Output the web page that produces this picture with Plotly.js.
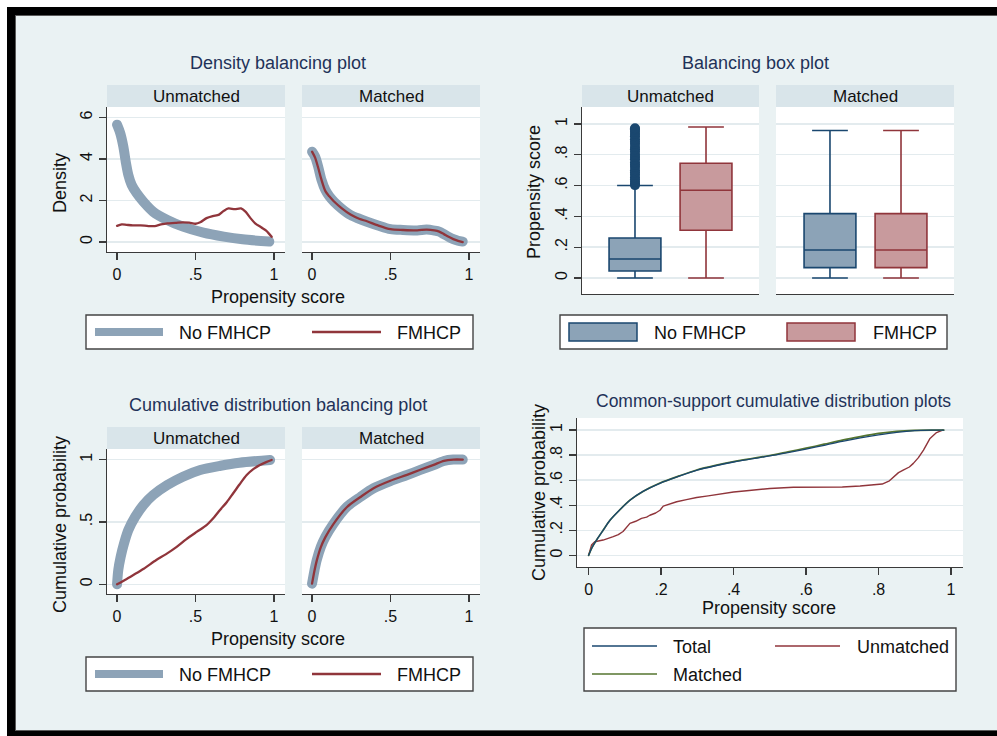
<!DOCTYPE html>
<html><head><meta charset="utf-8">
<script src="https://cdn.plot.ly/plotly-3.0.1.min.js"></script>
<style>
html,body{margin:0;padding:0;background:#fff;}
#chart{width:997px;height:736px;}
.js-line{stroke-linecap:round;stroke-linejoin:round;}
</style>
</head><body><div id="chart"></div>
<script>
// ---------------- DATA ----------------
const groupNames = ['No FMHCP', 'FMHCP'];
const cdfNames = ['Total', 'Unmatched', 'Matched'];
const panelNames = ['Unmatched', 'Matched'];

// Density balancing plot – Unmatched
const densUnNoX = [0, 0.02, 0.04, 0.057, 0.072, 0.093, 0.125, 0.168, 0.23, 0.32, 0.42, 0.55, 0.68, 0.80, 0.97];
const densUnNoY = [5.65, 5.25, 4.6, 3.8, 3.23, 2.75, 2.35, 1.94, 1.46, 1.06, 0.74, 0.45, 0.26, 0.13, 0.02];
const densUnFmX = [0, 0.03, 0.06, 0.10, 0.15, 0.20, 0.24, 0.28, 0.32, 0.37, 0.42, 0.46, 0.50, 0.53, 0.57, 0.61, 0.65, 0.68, 0.71, 0.75, 0.79, 0.82, 0.85, 0.88, 0.92, 0.95, 0.985];
const densUnFmY = [0.78, 0.85, 0.83, 0.80, 0.80, 0.77, 0.77, 0.85, 0.90, 0.92, 0.95, 0.93, 0.88, 0.95, 1.15, 1.25, 1.32, 1.50, 1.62, 1.58, 1.62, 1.45, 1.15, 0.90, 0.70, 0.55, 0.25];
// Density balancing plot – Matched
const densMaX   = [0, 0.02, 0.04, 0.06, 0.085, 0.11, 0.14, 0.19, 0.245, 0.30, 0.35, 0.42, 0.50, 0.58, 0.67, 0.73, 0.78, 0.81, 0.84, 0.87, 0.90, 0.93, 0.96];
const densMaNoY = [4.35, 4.1, 3.6, 3.0, 2.5, 2.2, 1.94, 1.6, 1.3, 1.12, 0.98, 0.80, 0.62, 0.58, 0.56, 0.60, 0.55, 0.50, 0.38, 0.25, 0.14, 0.06, 0.02];
const densMaFmY = [4.35, 4.05, 3.55, 3.0, 2.45, 2.2, 1.95, 1.62, 1.32, 1.12, 1.0, 0.80, 0.62, 0.58, 0.56, 0.60, 0.56, 0.50, 0.38, 0.25, 0.14, 0.06, 0.0];

// Balancing box plot (q1, median, q3, lower, upper)
const boxUnNo = {q1: 0.045, med: 0.123, q3: 0.26, lo: 0, hi: 0.60};
const boxUnFm = {q1: 0.31, med: 0.57, q3: 0.745, lo: 0, hi: 0.98};
const boxMaNo = {q1: 0.067, med: 0.182, q3: 0.418, lo: 0, hi: 0.957};
const boxMaFm = {q1: 0.067, med: 0.182, q3: 0.418, lo: 0, hi: 0.957};
const outliersUnNo = [0.603, 0.61, 0.625, 0.64, 0.652, 0.67, 0.685, 0.70, 0.72, 0.735, 0.75, 0.77, 0.785, 0.80, 0.82, 0.835, 0.85, 0.87, 0.885, 0.90, 0.92, 0.935, 0.95, 0.965, 0.972];

// Cumulative distribution balancing plot
const cdfUnNoX = [0, 0.008, 0.023, 0.045, 0.072, 0.115, 0.168, 0.23, 0.32, 0.42, 0.53, 0.66, 0.78, 0.975];
const cdfUnNoY = [0.0, 0.115, 0.22, 0.33, 0.435, 0.54, 0.636, 0.716, 0.796, 0.863, 0.917, 0.951, 0.975, 0.997];
const cdfUnFmX = [0, 0.05, 0.104, 0.17, 0.25, 0.31, 0.38, 0.44, 0.507, 0.57, 0.62, 0.656, 0.70, 0.74, 0.78, 0.826, 0.87, 0.91, 0.95, 0.985];
const cdfUnFmY = [0, 0.035, 0.075, 0.125, 0.195, 0.24, 0.30, 0.36, 0.42, 0.475, 0.54, 0.596, 0.66, 0.73, 0.80, 0.876, 0.925, 0.957, 0.98, 0.997];
const cdfMaX   = [0, 0.016, 0.03, 0.056, 0.085, 0.136, 0.223, 0.308, 0.392, 0.499, 0.605, 0.69, 0.775, 0.84, 0.90, 0.96];
const cdfMaNoY = [0.005, 0.115, 0.195, 0.30, 0.38, 0.485, 0.622, 0.70, 0.77, 0.828, 0.876, 0.917, 0.957, 0.989, 1.0, 1.0];
const cdfMaFmY = [0.005, 0.112, 0.19, 0.298, 0.378, 0.483, 0.62, 0.70, 0.771, 0.83, 0.878, 0.919, 0.958, 0.99, 1.0, 1.0];

// Common-support cumulative distribution plots
const csX       = [0, 0.01, 0.022, 0.04, 0.059, 0.085, 0.114, 0.15, 0.197, 0.25, 0.30, 0.35, 0.40, 0.45, 0.50, 0.55, 0.60, 0.65, 0.70, 0.75, 0.80, 0.85, 0.90, 0.95, 0.98];
const csTotalY  = [0, 0.065, 0.122, 0.20, 0.28, 0.36, 0.44, 0.51, 0.575, 0.632, 0.68, 0.715, 0.745, 0.77, 0.793, 0.82, 0.848, 0.878, 0.91, 0.938, 0.962, 0.982, 0.995, 0.999, 1.0];
const csMatchY  = [0, 0.065, 0.122, 0.20, 0.28, 0.36, 0.44, 0.51, 0.577, 0.634, 0.683, 0.718, 0.748, 0.773, 0.797, 0.826, 0.855, 0.887, 0.92, 0.948, 0.973, 0.99, 0.998, 1.0, 1.0];
const csUnX = [0, 0.008, 0.017, 0.04, 0.068, 0.082, 0.095, 0.114, 0.13, 0.146, 0.16, 0.169, 0.185, 0.197, 0.206, 0.225, 0.243, 0.27, 0.298, 0.33, 0.362, 0.40, 0.436, 0.50, 0.565, 0.657, 0.70, 0.749, 0.81, 0.83, 0.84, 0.855, 0.868, 0.885, 0.896, 0.91, 0.924, 0.942, 0.96, 0.977];
const csUnY = [0, 0.082, 0.109, 0.122, 0.149, 0.165, 0.19, 0.255, 0.272, 0.295, 0.305, 0.32, 0.338, 0.36, 0.393, 0.41, 0.428, 0.445, 0.462, 0.475, 0.49, 0.505, 0.516, 0.534, 0.543, 0.543, 0.545, 0.553, 0.569, 0.595, 0.622, 0.66, 0.68, 0.705, 0.734, 0.78, 0.84, 0.933, 0.98, 1.0];

// Tick labels
const ticksHalf = [0, 0.5, 1], ticksHalfTxt = ['0', '.5', '1'];
const ticksDens = [0, 2, 4, 6], ticksDensTxt = ['0', '2', '4', '6'];
const ticksFifth = [0, 0.2, 0.4, 0.6, 0.8, 1], ticksFifthTxt = ['0', '.2', '.4', '.6', '.8', '1'];

// ---------------- STYLE / LAYOUT ----------------
const W = 997, H = 736;
const X = p => p / W, Y = p => 1 - p / H;
const FONT = 'Liberation Sans, Arial, Helvetica, sans-serif';
const NAVY = '#1a476f', MAROON = '#90353b', GREEN = '#55752f', THICK = '#8da3b7';
const NAVYFILL = '#8ca3b7', MAROONFILL = '#c89a9d';
const TITLE = '#1f3259', BG = '#eaf2f3', STRIP = '#d9e5ea', GRID = '#e3ebee', AX = '#3a3a3a';

const traces = [];
function line(x, y, xa, ya, color, width, name, smooth) {
  const ln = {color: color, width: width};
  if (smooth) { ln.shape = 'spline'; ln.smoothing = 0.8; }
  traces.push({type: 'scatter', mode: 'lines', x: x, y: y, xaxis: xa, yaxis: ya, name: name,
    line: ln, hoverinfo: 'skip', showlegend: false});
}
// Panel 1
line(densUnNoX, densUnNoY, 'x', 'y', THICK, 10, groupNames[0], true);
line(densUnFmX, densUnFmY, 'x', 'y', MAROON, 2.3, groupNames[1], true);
line(densMaX, densMaNoY, 'x2', 'y2', THICK, 10, groupNames[0], true);
line(densMaX, densMaFmY, 'x2', 'y2', MAROON, 2.3, groupNames[1], true);
// Panel 2
function box(cat, s, xa, ya, color, fill) {
  traces.push({type: 'box', x: [cat], q1: [s.q1], median: [s.med], q3: [s.q3], lowerfence: [s.lo], upperfence: [s.hi],
    xaxis: xa, yaxis: ya, fillcolor: fill, line: {color: color, width: 1.6}, width: 0.73, whiskerwidth: 0.69,
    boxpoints: false, hoverinfo: 'skip', showlegend: false, name: cat});
}
box(groupNames[0], boxUnNo, 'x3', 'y3', NAVY, NAVYFILL);
box(groupNames[1], boxUnFm, 'x3', 'y3', MAROON, MAROONFILL);
box(groupNames[0], boxMaNo, 'x4', 'y4', NAVY, NAVYFILL);
box(groupNames[1], boxMaFm, 'x4', 'y4', MAROON, MAROONFILL);
traces.push({type: 'scatter', mode: 'markers', x: outliersUnNo.map(() => groupNames[0]), y: outliersUnNo,
  xaxis: 'x3', yaxis: 'y3', marker: {color: NAVY, size: 10}, hoverinfo: 'skip', showlegend: false});
// Panel 3
line(cdfUnNoX, cdfUnNoY, 'x5', 'y5', THICK, 10, groupNames[0], true);
line(cdfUnFmX, cdfUnFmY, 'x5', 'y5', MAROON, 2.3, groupNames[1], true);
line(cdfMaX, cdfMaNoY, 'x6', 'y6', THICK, 10, groupNames[0], true);
line(cdfMaX, cdfMaFmY, 'x6', 'y6', MAROON, 2.3, groupNames[1], true);
// Panel 4
line(csUnX, csUnY, 'x7', 'y7', MAROON, 1.4, cdfNames[1], false);
line(csX, csMatchY, 'x7', 'y7', GREEN, 1.7, cdfNames[2], true);
line(csX, csTotalY, 'x7', 'y7', NAVY, 1.3, cdfNames[0], true);

const axBase = {showgrid: false, zeroline: false, showline: true, linecolor: AX, linewidth: 1.3,
  ticks: 'outside', ticklen: 7, tickcolor: AX, tickwidth: 1.3, tickfont: {family: FONT, size: 16, color: '#111'},
  fixedrange: true, tickmode: 'array'};
function xa(px0, px1, anchor, range, tv, tt, extra) {
  return Object.assign({}, axBase, {domain: [X(px0), X(px1)], anchor: anchor, range: range, tickvals: tv, ticktext: tt}, extra || {});
}
function ya(py0, py1, anchor, range, tv, tt, labels, extra) {
  const o = Object.assign({}, axBase, {domain: [Y(py1), Y(py0)], anchor: anchor, range: range, tickvals: tv, ticktext: tt,
    tickangle: -90, showgrid: true, gridcolor: GRID, gridwidth: 1.4});
  if (!labels) { o.showticklabels = false; o.ticks = ''; o.showline = false; }
  return Object.assign(o, extra || {});
}
const boxX = {type: 'category', categoryorder: 'array', categoryarray: groupNames, showticklabels: false, ticks: ''};

const layout = {
  width: W, height: H, margin: {l: 0, r: 0, t: 0, b: 0}, paper_bgcolor: BG, plot_bgcolor: '#ffffff',
  showlegend: false, font: {family: FONT, color: '#111'}, boxmode: 'overlay',
  xaxis:  xa(107, 285, 'y',  [-0.064, 1.07], ticksHalf, ticksHalfTxt),
  xaxis2: xa(302, 480, 'y2', [-0.064, 1.07], ticksHalf, ticksHalfTxt),
  yaxis:  ya(107, 252, 'x',  [-0.48, 6.5], ticksDens, ticksDensTxt, true),
  yaxis2: ya(107, 252, 'x2', [-0.48, 6.5], ticksDens, ticksDensTxt, false),
  xaxis3: xa(582, 759, 'y3', [-0.746, 1.746], [], [], boxX),
  xaxis4: xa(776, 954, 'y4', [-0.76, 1.746], [], [], boxX),
  yaxis3: ya(107, 294, 'x3', [-0.104, 1.11], ticksFifth, ticksFifthTxt, true),
  yaxis4: ya(107, 294, 'x4', [-0.104, 1.11], ticksFifth, ticksFifthTxt, false),
  xaxis5: xa(107, 285, 'y5', [-0.064, 1.07], ticksHalf, ticksHalfTxt),
  xaxis6: xa(302, 480, 'y6', [-0.064, 1.07], ticksHalf, ticksHalfTxt),
  yaxis5: ya(449, 594, 'x5', [-0.078, 1.085], ticksHalf, ticksHalfTxt, true),
  yaxis6: ya(449, 594, 'x6', [-0.078, 1.085], ticksHalf, ticksHalfTxt, false),
  xaxis7: xa(577, 963, 'y7', [-0.032, 1.033], ticksFifth, ticksFifthTxt),
  yaxis7: ya(418, 567, 'x7', [-0.093, 1.096], ticksFifth, ticksFifthTxt, true),
  shapes: [], annotations: []
};

function rect(x0, y0, x1, y1, fill, lc, lw) {
  layout.shapes.push({type: 'rect', xref: 'paper', yref: 'paper', x0: X(x0), x1: X(x1), y0: Y(y1), y1: Y(y0),
    fillcolor: fill, line: {color: lc || fill, width: lw || 0}, layer: 'below'});
}
function seg(x0, y0, x1, y1, color, width) {
  layout.shapes.push({type: 'line', xref: 'paper', yref: 'paper', x0: X(x0), x1: X(x1), y0: Y(y0), y1: Y(y1),
    line: {color: color, width: width}, layer: 'above'});
}
function txt(text, px, py, size, color, opts) {
  layout.annotations.push(Object.assign({text: text, xref: 'paper', yref: 'paper', x: X(px), y: Y(py),
    xanchor: 'center', yanchor: 'middle', showarrow: false, font: {family: FONT, size: size, color: color}}, opts || {}));
}

// outer frame
rect(0, 0, W, 7, '#ffffff');
rect(0, 0, 7, H, '#ffffff');
rect(7, 7, W, 15, '#000000');
rect(7, 7, 15, H, '#000000');
rect(7, 731, W, H, '#000000');
seg(15, 15.5, W, 15.5, '#5a5a5a', 1);
seg(15.5, 15, 15.5, 731, '#5a5a5a', 1);
seg(15, 730.5, W, 730.5, '#5a5a5a', 1);

// strips
[[107, 285, 85, 107, 0], [302, 480, 85, 107, 1], [582, 759, 85, 107, 0], [776, 954, 85, 107, 1],
 [107, 285, 427, 449, 0], [302, 480, 427, 449, 1]].forEach(s => {
  rect(s[0], s[2], s[1], s[3], STRIP);
  txt(panelNames[s[4]], (s[0] + s[1]) / 2, (s[2] + s[3]) / 2, 17, '#111');
});

// titles
txt('Density balancing plot', 278, 63, 18, TITLE);
txt('Balancing box plot', 755, 63, 18, TITLE);
txt('Cumulative distribution balancing plot', 278, 405, 18, TITLE);
txt('Common-support cumulative distribution plots', 773, 401, 17.5, TITLE);

// axis titles
txt('Propensity score', 278, 297, 18, '#111');
txt('Propensity score', 278, 639, 18, '#111');
txt('Propensity score', 769, 608, 18, '#111');
txt('Density', 60, 183, 18, '#111', {textangle: -90});
txt('Propensity score', 534, 192, 18, '#111', {textangle: -90});
txt('Cumulative probability', 60, 525, 18, '#111', {textangle: -90});
txt('Cumulative probability', 539, 493, 18, '#111', {textangle: -90});

// legends
function legendBox(x0, y0, x1, y1) { rect(x0, y0, x1, y1, '#ffffff', '#444444', 1.4); }
function ltxt(text, px, py) { txt(text, px, py, 18, '#111', {xanchor: 'left'}); }
legendBox(86, 315, 473, 349);
seg(95, 332, 163, 332, THICK, 8); ltxt(groupNames[0], 177, 333);
seg(312, 332, 381, 332, MAROON, 2.3); ltxt(groupNames[1], 395, 333);
legendBox(86, 657, 473, 691);
seg(95, 674, 163, 674, THICK, 8); ltxt(groupNames[0], 177, 675);
seg(312, 674, 381, 674, MAROON, 2.3); ltxt(groupNames[1], 395, 675);
legendBox(560, 315, 947, 349);
layout.shapes.push({type: 'rect', xref: 'paper', yref: 'paper', x0: X(569), x1: X(637), y0: Y(341), y1: Y(323), fillcolor: NAVYFILL, line: {color: NAVY, width: 1.5}, layer: 'above'});
layout.shapes.push({type: 'rect', xref: 'paper', yref: 'paper', x0: X(787), x1: X(855), y0: Y(341), y1: Y(323), fillcolor: MAROONFILL, line: {color: MAROON, width: 1.5}, layer: 'above'});
ltxt(groupNames[0], 652, 333); ltxt(groupNames[1], 871, 333);
legendBox(584, 628, 956, 691);
seg(592, 646, 657, 646, NAVY, 1.4); ltxt(cdfNames[0], 671, 647);
seg(775, 646, 840, 646, MAROON, 1.4); ltxt(cdfNames[1], 855, 647);
seg(592, 674, 657, 674, GREEN, 1.6); ltxt(cdfNames[2], 671, 675);

Plotly.newPlot('chart', traces, layout, {displayModeBar: false, staticPlot: true});
</script></body></html>
